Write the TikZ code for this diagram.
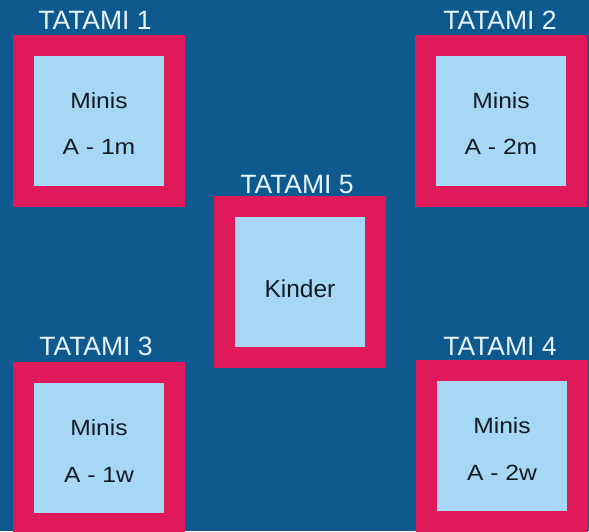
\documentclass[tikz,border=0pt]{standalone}
\usepackage{fontspec}
\setmainfont{Liberation Sans}
\newfontfamily\widefont[FakeStretch=1.12]{Liberation Sans}
\definecolor{hall}{HTML}{0E5A8F}
\definecolor{matred}{HTML}{E0195A}
\definecolor{matblue}{HTML}{A6D8F4}
\definecolor{tagwhite}{HTML}{E8F4FB}
\definecolor{ink}{HTML}{141B24}
\tikzset{
  mat/.style={draw=matred, fill=matblue, line width=21pt, minimum size=151pt, inner sep=0pt,
    align=center, text=ink, font=\widefont\fontsize{22}{46.6}\selectfont},
  kids/.style={font=\fontsize{24.5}{28}\selectfont},
  tag/.style={anchor=base, text=tagwhite, inner sep=0pt, font=\fontsize{26.5}{30}\selectfont}
}
\begin{document}
\begin{tikzpicture}[x=1pt, y=1pt]
      \fill[hall] (0, 0) rectangle (589, -531);
      \useasboundingbox (0, 0) rectangle (589, -531);
      \node[mat] (t1) at (99, -120.5) {\rule{0pt}{22pt}Minis\\A - 1m};
      \node[tag] (l1) at ([xshift=-4pt, yshift=5pt]t1.north) {TATAMI 1};
      \node[mat] (t2) at (501, -120.5) {\rule{0pt}{22pt}Minis\\A - 2m};
      \node[tag] (l2) at ([xshift=-1pt, yshift=5pt]t2.north) {TATAMI 2};
      \node[mat, kids] (t5) at (300, -282) {\rule{0pt}{31pt}Kinder};
      \node[tag] (l5) at ([xshift=-3pt, yshift=3pt]t5.north) {TATAMI 5};
      \node[mat] (t3) at (99, -448) {\rule{0pt}{22pt}Minis\\A - 1w};
      \node[tag] (l3) at ([xshift=-3pt, yshift=7pt]t3.north) {TATAMI 3};
      \node[mat] (t4) at (502, -446) {\rule{0pt}{22pt}Minis\\A - 2w};
      \node[tag] (l4) at ([xshift=-2pt, yshift=5pt]t4.north) {TATAMI 4};
    \end{tikzpicture}
\end{document}
